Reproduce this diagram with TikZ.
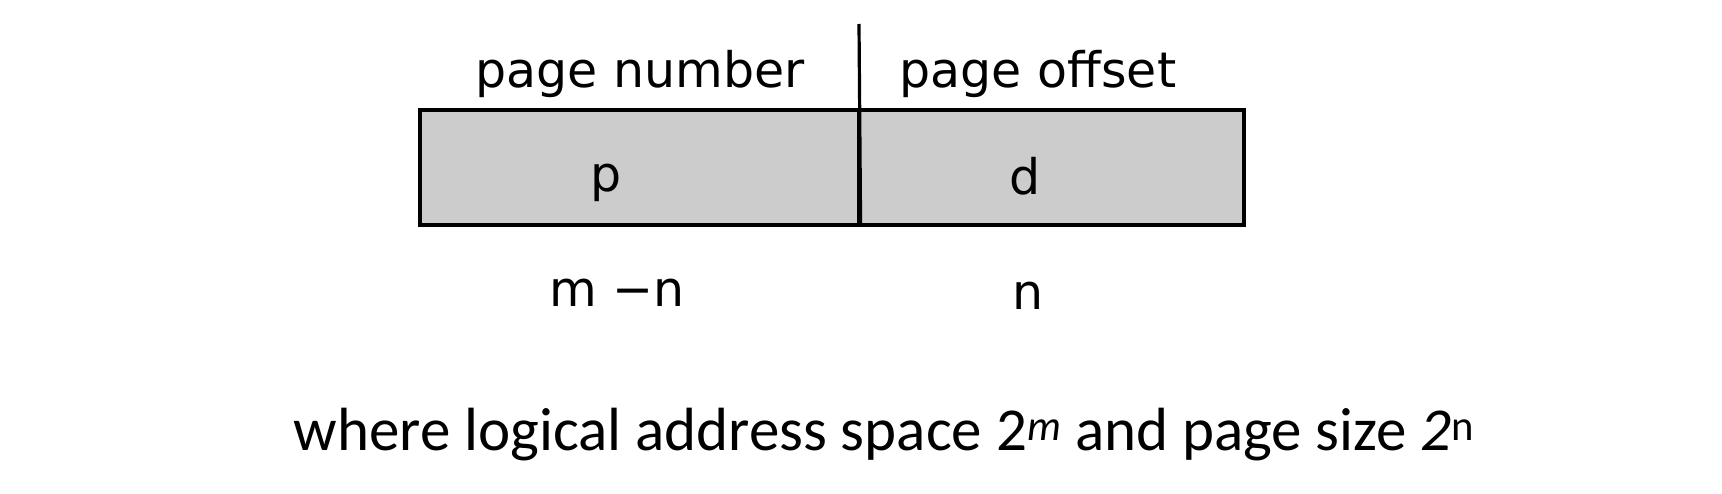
\documentclass[tikz,border=0pt]{standalone}
\usepackage{fontspec}
\setmainfont{DejaVu Sans}
\newfontfamily\capfont{Carlito}
\usepackage{xcolor}
\usepackage{tikz}

\definecolor{fieldgray}{RGB}{204,204,204}
\tikzset{
  field/.style={draw=black, line width=3.2pt, fill=fieldgray, minimum height=115pt, inner sep=0pt},
  lbl/.style={anchor=base, inner sep=0pt, font=\fontsize{49}{55}\selectfont},
}

\begin{document}
\begin{tikzpicture}[x=1pt, y=-1pt]
\useasboundingbox (0,0) rectangle (1722,494);
\node[field, minimum width=439pt] (pcell) at (639.5,167.5) {};
\node[field, minimum width=385pt] (dcell) at (1051.5,167.5) {};
\coordinate (divtop) at (859,24);
\draw[line width=3.2pt] (divtop) -- (pcell.south east);
\node[lbl] (pnum) at (640,88) {page number};
\node[lbl] (poff) at (1038,88) {page offset};
\node[lbl] (p) at (606,192) {p};
\node[lbl] (d) at (1025,195) {d};
\node[lbl] (mn) at (617,307) {m −n};
\node[lbl] (n) at (1028,310) {n};
\node[anchor=base, inner sep=0pt, font=\capfont\fontsize{61}{66}\selectfont] (caption) at (884,450)
  {where logical address space 2\textsuperscript{\textit{m}} and page size \textit{2}\textsuperscript{n}};
\end{tikzpicture}
\end{document}
